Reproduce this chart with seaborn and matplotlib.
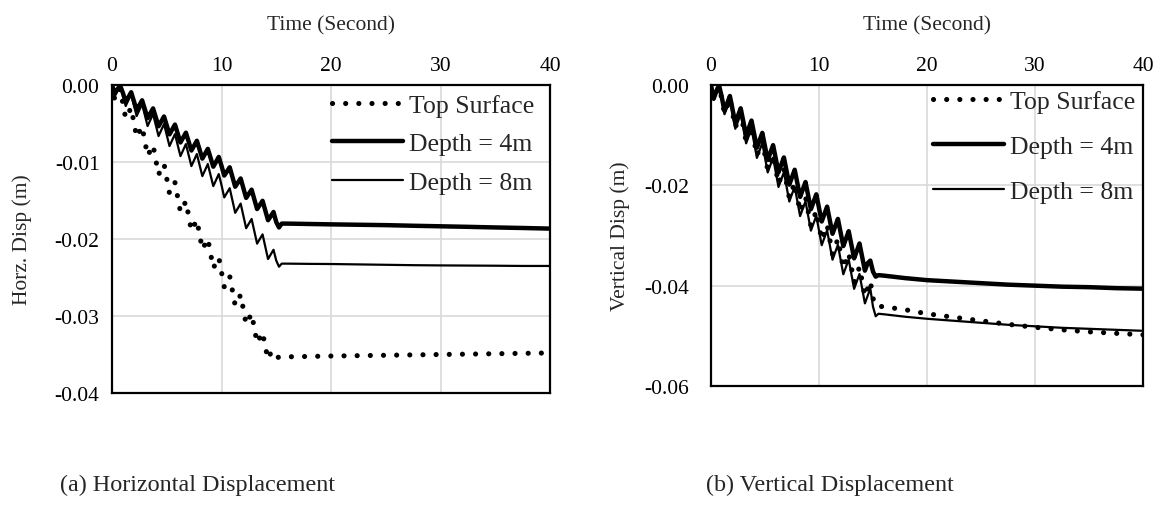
import numpy as np
import pandas as pd
import matplotlib
matplotlib.use("Agg")
import matplotlib.pyplot as plt
from matplotlib.ticker import FuncFormatter
import seaborn as sns

# Time samples (s): quarter-second steps through the shaking, then the post-shaking tail
time_s = [0.0, 0.25, 0.5, 0.75, 1.0, 1.25, 1.5, 1.75, 2.0, 2.25, 2.5, 2.75,
          3.0, 3.25, 3.5, 3.75, 4.0, 4.25, 4.5, 4.75, 5.0, 5.25, 5.5, 5.75,
          6.0, 6.25, 6.5, 6.75, 7.0, 7.25, 7.5, 7.75, 8.0, 8.25, 8.5, 8.75,
          9.0, 9.25, 9.5, 9.75, 10.0, 10.25, 10.5, 10.75, 11.0, 11.25, 11.5, 11.75,
          12.0, 12.25, 12.5, 12.75, 13.0, 13.25, 13.5, 13.75, 14.0, 14.25, 14.5, 14.75,
          15.0, 15.25, 15.5,
          16.0, 18.0, 20.0, 22.5, 25.0, 27.5, 30.0, 32.5, 35.0, 37.5, 40.0]

# (a) Horizontal displacement (m)
horz_top = [0.0, -0.00191, -0.00122, -0.00052, -0.00243, -0.00434, -0.00365, -0.00295,
            -0.00486, -0.00677, -0.00608, -0.00538, -0.00729, -0.00920, -0.00851, -0.00781,
            -0.00972, -0.01163, -0.01094, -0.01024, -0.01215, -0.01406, -0.01337, -0.01267,
            -0.01458, -0.01649, -0.01580, -0.01510, -0.01701, -0.01892, -0.01823, -0.01753,
            -0.01944, -0.02135, -0.02066, -0.01996, -0.02187, -0.02378, -0.02309, -0.02239,
            -0.02430, -0.02621, -0.02552, -0.02482, -0.02673, -0.02864, -0.02795, -0.02725,
            -0.02916, -0.03107, -0.03038, -0.02968, -0.03159, -0.03350, -0.03281, -0.03211,
            -0.03402, -0.03560, -0.03480, -0.03560, -0.03540, -0.03535, -0.03530,
            -0.03530, -0.03525, -0.03520, -0.03515, -0.03510, -0.03505, -0.03500,
            -0.03495, -0.03490, -0.03485, -0.03480]
horz_4m = [0.0, -0.00116, -0.00053, -0.00010, -0.00105, -0.00221, -0.00158, -0.00094,
           -0.00210, -0.00326, -0.00263, -0.00199, -0.00315, -0.00431, -0.00368, -0.00304,
           -0.00420, -0.00536, -0.00473, -0.00409, -0.00525, -0.00641, -0.00578, -0.00514,
           -0.00630, -0.00746, -0.00683, -0.00619, -0.00735, -0.00851, -0.00788, -0.00724,
           -0.00840, -0.00956, -0.00893, -0.00829, -0.00945, -0.01061, -0.00998, -0.00934,
           -0.01050, -0.01176, -0.01123, -0.01069, -0.01195, -0.01321, -0.01268, -0.01214,
           -0.01340, -0.01466, -0.01413, -0.01359, -0.01485, -0.01611, -0.01558, -0.01504,
           -0.01630, -0.01756, -0.01703, -0.01649, -0.01780, -0.01850, -0.01800,
           -0.01800, -0.01805, -0.01810, -0.01815, -0.01820, -0.01828, -0.01835,
           -0.01842, -0.01850, -0.01857, -0.01865]
horz_8m = [0.0, -0.00143, -0.00065, -0.00020, -0.00130, -0.00273, -0.00195, -0.00117,
           -0.00260, -0.00403, -0.00325, -0.00247, -0.00390, -0.00533, -0.00455, -0.00377,
           -0.00520, -0.00663, -0.00585, -0.00507, -0.00650, -0.00793, -0.00715, -0.00637,
           -0.00780, -0.00923, -0.00845, -0.00767, -0.00910, -0.01053, -0.00975, -0.00897,
           -0.01040, -0.01183, -0.01105, -0.01027, -0.01170, -0.01313, -0.01235, -0.01157,
           -0.01300, -0.01460, -0.01400, -0.01340, -0.01500, -0.01660, -0.01600, -0.01540,
           -0.01700, -0.01860, -0.01800, -0.01740, -0.01900, -0.02060, -0.02000, -0.01940,
           -0.02100, -0.02260, -0.02200, -0.02140, -0.02280, -0.02360, -0.02320,
           -0.02320, -0.02323, -0.02325, -0.02330, -0.02335, -0.02340, -0.02343,
           -0.02345, -0.02347, -0.02350, -0.02350]

# (b) Vertical displacement (m)
vert_top = [0.0, -0.0029, -0.0014, -0.0002, -0.0028, -0.0057, -0.0042, -0.0027,
            -0.0056, -0.0085, -0.0070, -0.0055, -0.0084, -0.0113, -0.0098, -0.0083,
            -0.0112, -0.0141, -0.0126, -0.0111, -0.0140, -0.0169, -0.0154, -0.0139,
            -0.0168, -0.0197, -0.0182, -0.0167, -0.0196, -0.0225, -0.0210, -0.0195,
            -0.0224, -0.0253, -0.0238, -0.0223, -0.0252, -0.0281, -0.0266, -0.0251,
            -0.0280, -0.0309, -0.0294, -0.0279, -0.0308, -0.0337, -0.0322, -0.0307,
            -0.0336, -0.0365, -0.0350, -0.0335, -0.0364, -0.0393, -0.0378, -0.0363,
            -0.0392, -0.0421, -0.0406, -0.0391, -0.0425, -0.0440, -0.0441,
            -0.0442, -0.0448, -0.0456, -0.0463, -0.0470, -0.0477, -0.0483,
            -0.0488, -0.0492, -0.0495, -0.0498]
vert_4m = [0.0, -0.00271, -0.00123, -0.00010, -0.00245, -0.00516, -0.00368, -0.00219,
           -0.00490, -0.00761, -0.00613, -0.00464, -0.00735, -0.01006, -0.00858, -0.00709,
           -0.00980, -0.01251, -0.01103, -0.00954, -0.01225, -0.01496, -0.01348, -0.01199,
           -0.01470, -0.01741, -0.01593, -0.01444, -0.01715, -0.01986, -0.01838, -0.01689,
           -0.01960, -0.02231, -0.02083, -0.01934, -0.02205, -0.02476, -0.02328, -0.02179,
           -0.02450, -0.02721, -0.02573, -0.02424, -0.02695, -0.02966, -0.02818, -0.02669,
           -0.02940, -0.03211, -0.03063, -0.02914, -0.03185, -0.03456, -0.03308, -0.03159,
           -0.03430, -0.03701, -0.03553, -0.03500, -0.03720, -0.03820, -0.03790,
           -0.0380, -0.0385, -0.0389, -0.0392, -0.0395, -0.0398, -0.0400,
           -0.0402, -0.0403, -0.0405, -0.0406]
vert_8m = [0.0, -0.00293, -0.00145, -0.00020, -0.00290, -0.00583, -0.00435, -0.00287,
           -0.00580, -0.00873, -0.00725, -0.00577, -0.00870, -0.01163, -0.01015, -0.00867,
           -0.01160, -0.01453, -0.01305, -0.01157, -0.01450, -0.01743, -0.01595, -0.01447,
           -0.01740, -0.02033, -0.01885, -0.01737, -0.02030, -0.02323, -0.02175, -0.02027,
           -0.02320, -0.02613, -0.02465, -0.02317, -0.02610, -0.02903, -0.02755, -0.02607,
           -0.02900, -0.03193, -0.03045, -0.02897, -0.03190, -0.03483, -0.03335, -0.03187,
           -0.03480, -0.03773, -0.03625, -0.03477, -0.03770, -0.04063, -0.03915, -0.03767,
           -0.04060, -0.04353, -0.04205, -0.04057, -0.04420, -0.04610, -0.04560,
           -0.0457, -0.0462, -0.0466, -0.0470, -0.0474, -0.0478, -0.0481,
           -0.0484, -0.0486, -0.0488, -0.0490]

series_labels = ["Top Surface", "Depth = 4m", "Depth = 8m"]
x_ticks = [0, 10, 20, 30, 40]
horz_ticks = [0.0, -0.01, -0.02, -0.03, -0.04]
vert_ticks = [0.0, -0.02, -0.04, -0.06]

sns.set_style("white")
plt.rcParams["font.family"] = ["Liberation Serif", "DejaVu Serif"]

DPI = 100
fig = plt.figure(figsize=(11.61, 5.06), dpi=DPI)

TICK_FS = 15.5
LEGEND_FS = 18.5
GRID_COLOR = "#d9d9d9"

line_styles = {
    "Top Surface": dict(linewidth=3.7, linestyle=(0, (0.01, 2.55)),
                        dash_capstyle="round", solid_capstyle="round"),
    "Depth = 4m": dict(linewidth=3.2, linestyle="-", solid_joinstyle="round"),
    "Depth = 8m": dict(linewidth=1.6, linestyle="-", solid_joinstyle="round"),
}


def fmt_tick(v, _):
    s = f"{v:.2f}"
    return "0.00" if s == "-0.00" else s


def draw_panel(ax, series, yticks, ylabel, ytick_pad, ylabel_pad,
               legend_anchor, legend_spacing):
    for label, values in zip(series_labels, series):
        sns.lineplot(x=time_s, y=values, ax=ax, color="black", label=label,
                     estimator=None, errorbar=None, sort=False,
                     **line_styles[label])
    ax.set_xlim(0, 40)
    ax.set_ylim(min(yticks), 0)
    ax.set_xticks(x_ticks)
    ax.set_yticks(yticks)
    ax.yaxis.set_major_formatter(FuncFormatter(fmt_tick))
    ax.xaxis.tick_top()
    ax.xaxis.set_label_position("top")
    ax.set_xlabel("Time (Second)", fontsize=TICK_FS, labelpad=19)
    ax.set_ylabel(ylabel, fontsize=TICK_FS, labelpad=ylabel_pad)
    ax.tick_params(axis="both", length=0, labelsize=TICK_FS, colors="black")
    ax.tick_params(axis="x", pad=7)
    ax.tick_params(axis="y", pad=ytick_pad)
    ax.grid(True, color=GRID_COLOR, linewidth=1.2)
    ax.set_axisbelow(True)
    for sp in ax.spines.values():
        sp.set_visible(True)
        sp.set_color("black")
        sp.set_linewidth(1.6)
    ax.legend(loc="upper left", bbox_to_anchor=legend_anchor, frameon=False,
              fontsize=LEGEND_FS, handlelength=2.75, handletextpad=0.25,
              labelspacing=legend_spacing, borderaxespad=0, borderpad=0)


ax_h = fig.add_axes([112 / 1161, 1 - 394 / 506, 438 / 1161, 308 / 506])
ax_v = fig.add_axes([711 / 1161, 1 - 387 / 506, 432 / 1161, 301 / 506])

draw_panel(ax_h, [horz_top, horz_4m, horz_8m], horz_ticks, "Horz. Disp (m)",
           9, 16, (220 / 438, 1 - 9 / 308), 0.6)
draw_panel(ax_v, [vert_top, vert_4m, vert_8m], vert_ticks, "Vertical Disp (m)",
           16, 10, (222 / 432, 1 - 5 / 301), 0.86)

fig.text(60 / 1161, 1 - 485 / 506, "(a) Horizontal Displacement", fontsize=17.4,
         ha="left", va="center")
fig.text(706 / 1161, 1 - 485 / 506, "(b) Vertical Displacement", fontsize=17.4,
         ha="left", va="center")

fig.savefig("out.png", dpi=DPI, facecolor="white")
